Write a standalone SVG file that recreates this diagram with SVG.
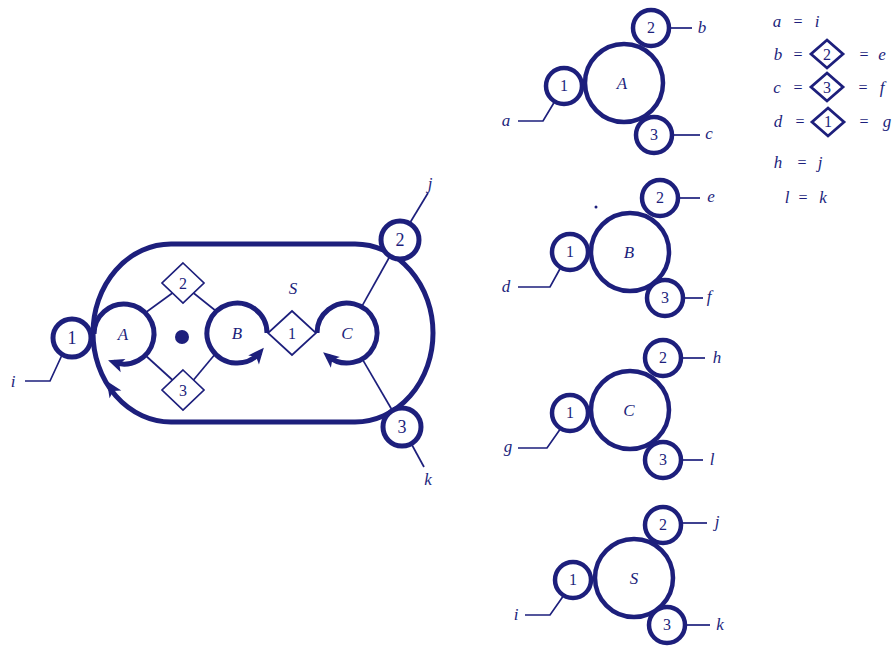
<svg xmlns="http://www.w3.org/2000/svg" width="893" height="648" viewBox="0 0 893 648">
<style>
.thick{fill:#fff;stroke:#1d1f7c;stroke-width:5}
.arc{fill:none;stroke:#1d1f7c;stroke-width:5}
.sm{fill:#fff;stroke:#1d1f7c;stroke-width:4.5}
.thin{fill:none;stroke:#1d1f7c;stroke-width:1.7}
.dia{fill:#fff;stroke:#1d1f7c;stroke-width:1.7}
.ldia{fill:#fff;stroke:#1d1f7c;stroke-width:2.8}
text{font-family:"Liberation Serif","DejaVu Serif",serif;fill:#1d1f7c;text-anchor:middle}
.n{font-size:18px}
.l{font-size:17px;font-style:italic}
.eq{font-size:16px}
</style>
<defs>
<path id="ah" d="M6,0 L-10,-7 L-6,0 L-10,7 Z" fill="#1d1f7c"/>
<marker id="arr" markerUnits="userSpaceOnUse" markerWidth="26" markerHeight="26" viewBox="-13 -13 26 26" refX="0" refY="0" orient="auto">
<path d="M6,0 L-10,-7 L-6,0 L-10,7 Z" fill="#1d1f7c"/>
</marker>
</defs>
<rect width="893" height="648" fill="#fff"/>

<g id="connectors">
<line class="thin" x1="145" y1="313" x2="172.5" y2="293"/>
<line class="thin" x1="193.5" y1="293" x2="216" y2="311"/>
<line class="thin" x1="145" y1="355" x2="172.5" y2="380"/>
<line class="thin" x1="193.5" y1="380" x2="216" y2="353"/>
<line class="thin" x1="361.6" y1="306.8" x2="389.2" y2="257.5"/>
<line class="thin" x1="362.2" y1="358.9" x2="391.9" y2="409.7"/>
<line class="thin" x1="410" y1="222.7" x2="428" y2="193"/>
<line class="thin" x1="412" y1="445" x2="424" y2="467"/>
<polyline class="thin" points="62,355 50,381 25,381"/>
<polyline class="thin" points="555,101 543,121 518,121"/>
<line class="thin" x1="669" y1="28" x2="692" y2="28"/>
<line class="thin" x1="672" y1="135" x2="700" y2="135"/>
<polyline class="thin" points="561,267 550,287 518,287"/>
<line class="thin" x1="678" y1="198" x2="700" y2="198"/>
<line class="thin" x1="683" y1="298" x2="703" y2="298"/>
<polyline class="thin" points="561,428 547,448 518,448"/>
<line class="thin" x1="681" y1="358" x2="705" y2="358"/>
<line class="thin" x1="681" y1="460" x2="703" y2="460"/>
<polyline class="thin" points="564,595 550,615 525,615"/>
<line class="thin" x1="681" y1="523" x2="707" y2="523"/>
<line class="thin" x1="685" y1="625" x2="710" y2="625"/>
</g>

<g id="S-boundary">
<rect class="arc" x="93" y="244" width="340" height="178" rx="78" ry="89"/>
<use href="#ah" transform="translate(110,386) rotate(-123)"/>
<text class="l" x="293" y="294">S</text>
</g>

<g id="port-i">
<circle class="thick" cx="72" cy="338" r="19"/>
<text class="n" x="72" y="344">1</text>
<text class="l" x="13" y="387">i</text>
</g>
<g id="port-j">
<circle class="thick" cx="400" cy="240" r="19"/>
<text class="n" x="400" y="246">2</text>
<text class="l" x="430" y="189">j</text>
</g>
<g id="port-k">
<circle class="thick" cx="402" cy="427" r="19"/>
<text class="n" x="402" y="433">3</text>
<text class="l" x="428" y="485">k</text>
</g>

<g id="node-A">
<path class="arc" d="M94,334 A30,30 0 1 1 113.7,362.2" marker-end="url(#arr)"/>
<text class="l" x="123" y="340">A</text>
</g>
<g id="node-B">
<path class="arc" d="M267,333 A30,30 0 1 0 260,352.3" marker-end="url(#arr)"/>
<text class="l" x="237" y="339">B</text>
</g>
<g id="node-C">
<path class="arc" d="M317,333 A30,30 0 1 1 327.7,356" marker-end="url(#arr)"/>
<text class="l" x="347" y="339">C</text>
</g>

<g id="link-2">
<polygon class="dia" points="183,263 204,283 183,303 162,283"/>
<text class="eq" x="183" y="289">2</text>
</g>
<g id="link-3">
<polygon class="dia" points="183,370 204,390 183,410 162,390"/>
<text class="eq" x="183" y="396">3</text>
</g>
<g id="link-1">
<polygon class="dia" points="292,311 316,333 292,355 268,333"/>
<text class="eq" x="292" y="339">1</text>
</g>
<g id="center-dot">
<circle cx="182" cy="337" r="7" fill="#1d1f7c"/>
</g>

<g id="comp-A">
<circle class="sm" cx="624" cy="83" r="39"/>
<circle class="sm" cx="564" cy="86" r="18"/>
<circle class="sm" cx="651" cy="28" r="18"/>
<circle class="sm" cx="654" cy="135" r="18"/>
<text class="l" x="622" y="89">A</text>
<text class="eq" x="564" y="91">1</text>
<text class="eq" x="651" y="33">2</text>
<text class="eq" x="654" y="140">3</text>
<text class="l" x="506" y="126">a</text>
<text class="l" x="702" y="33">b</text>
<text class="l" x="709" y="139">c</text>
</g>

<g id="comp-B">
<circle class="sm" cx="630" cy="252" r="39"/>
<circle class="sm" cx="570" cy="252" r="18"/>
<circle class="sm" cx="660" cy="198" r="18"/>
<circle class="sm" cx="665" cy="298" r="18"/>
<circle cx="596" cy="207" r="1.5" fill="#1d1f7c"/>
<text class="l" x="629" y="258">B</text>
<text class="eq" x="570" y="257">1</text>
<text class="eq" x="660" y="203">2</text>
<text class="eq" x="665" y="303">3</text>
<text class="l" x="506" y="292">d</text>
<text class="l" x="711" y="202">e</text>
<text class="l" x="709" y="302">f</text>
</g>

<g id="comp-C">
<circle class="sm" cx="630" cy="410" r="39"/>
<circle class="sm" cx="570" cy="413" r="18"/>
<circle class="sm" cx="663" cy="358" r="18"/>
<circle class="sm" cx="663" cy="460" r="18"/>
<text class="l" x="629" y="416">C</text>
<text class="eq" x="570" y="418">1</text>
<text class="eq" x="663" y="363">2</text>
<text class="eq" x="663" y="465">3</text>
<text class="l" x="508" y="452">g</text>
<text class="l" x="717" y="363">h</text>
<text class="l" x="712" y="465">l</text>
</g>

<g id="comp-S">
<circle class="sm" cx="634" cy="578" r="39"/>
<circle class="sm" cx="573" cy="580" r="18"/>
<circle class="sm" cx="663" cy="525" r="18"/>
<circle class="sm" cx="667" cy="625" r="18"/>
<text class="l" x="634" y="584">S</text>
<text class="eq" x="573" y="585">1</text>
<text class="eq" x="663" y="530">2</text>
<text class="eq" x="667" y="630">3</text>
<text class="l" x="516" y="620">i</text>
<text class="l" x="717" y="527">j</text>
<text class="l" x="720" y="630">k</text>
</g>

<g id="legend">
<text class="l" x="777" y="27">a</text><text class="eq" x="798" y="27">=</text><text class="l" x="817" y="27">i</text>
<text class="l" x="778" y="60">b</text><text class="eq" x="798" y="60">=</text>
<polygon class="ldia" points="827,40 843,54 827,68 811,54"/><text class="eq" x="827" y="60">2</text>
<text class="eq" x="864" y="60">=</text><text class="l" x="882" y="60">e</text>
<text class="l" x="777" y="93">c</text><text class="eq" x="798" y="93">=</text>
<polygon class="ldia" points="827,73 843,87 827,101 811,87"/><text class="eq" x="827" y="93">3</text>
<text class="eq" x="863" y="93">=</text><text class="l" x="882" y="93">f</text>
<text class="l" x="778" y="127">d</text><text class="eq" x="800" y="127">=</text>
<polygon class="ldia" points="828,108 844,122 828,136 812,122"/><text class="eq" x="828" y="127">1</text>
<text class="eq" x="864" y="127">=</text><text class="l" x="887" y="127">g</text>
<text class="l" x="778" y="168">h</text><text class="eq" x="802" y="168">=</text><text class="l" x="820" y="168">j</text>
<text class="l" x="787" y="203">l</text><text class="eq" x="803" y="203">=</text><text class="l" x="823" y="203">k</text>
</g>
</svg>
